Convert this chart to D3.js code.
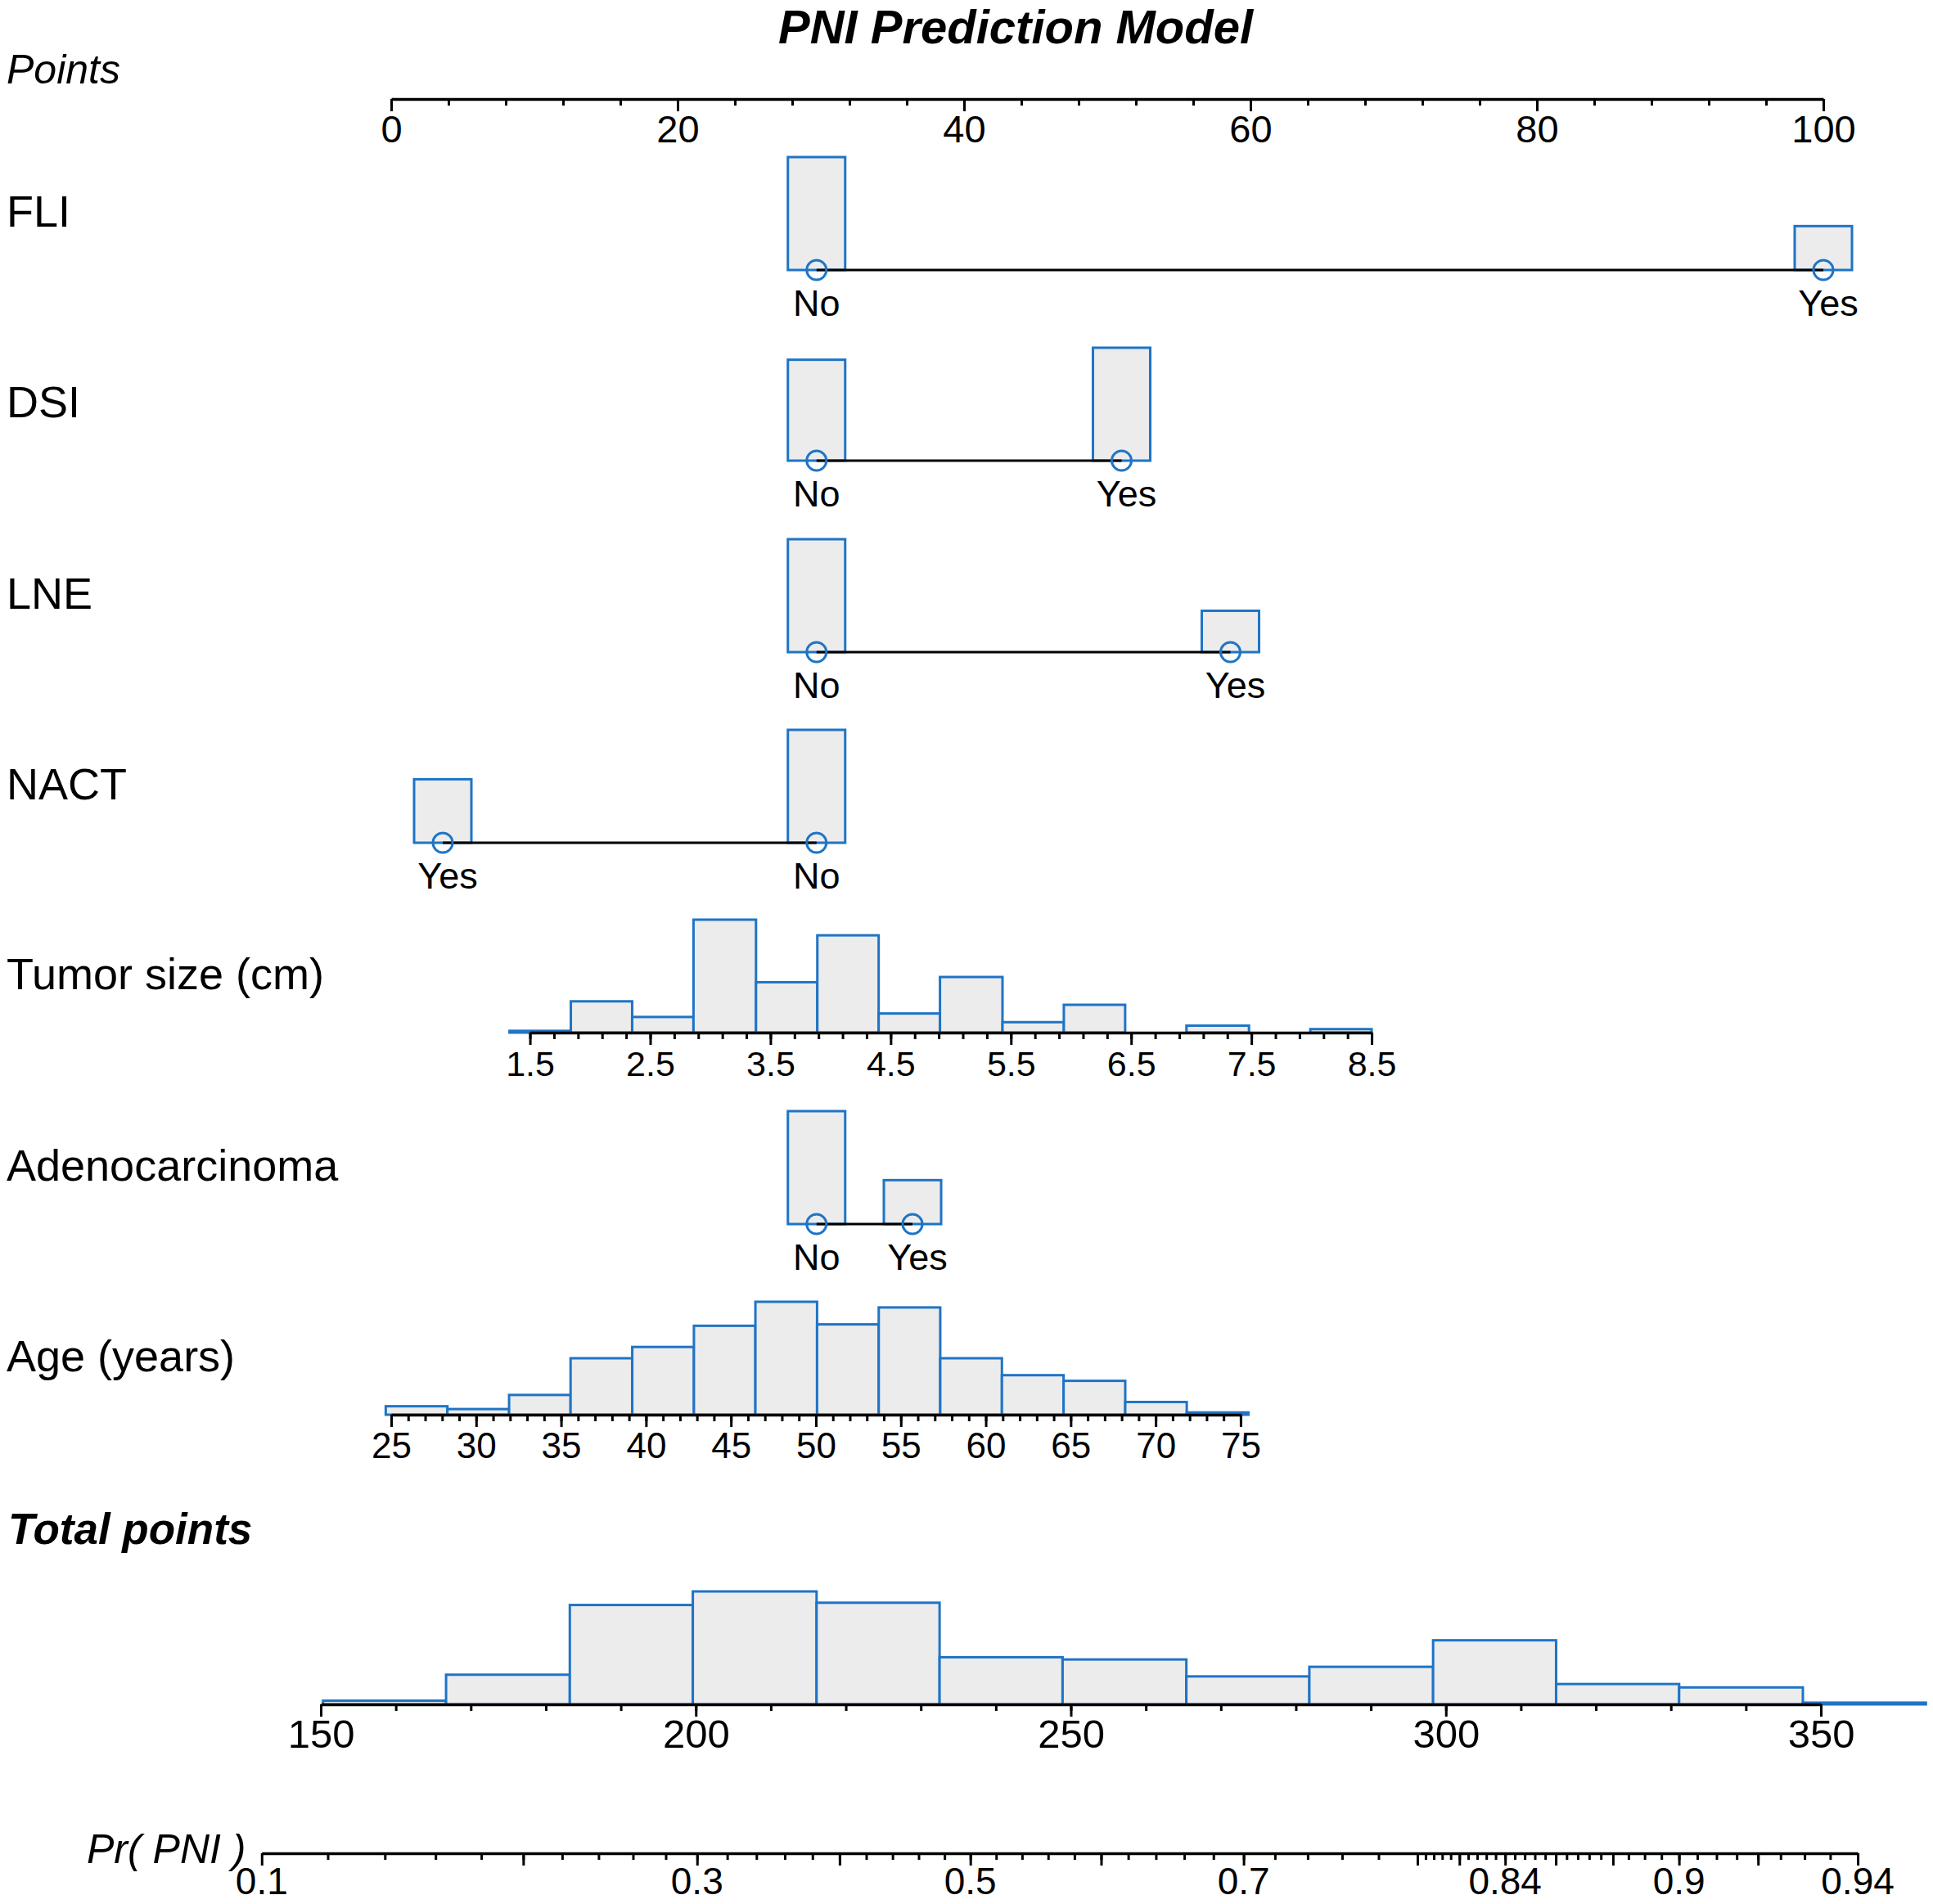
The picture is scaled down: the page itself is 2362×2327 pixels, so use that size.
<!DOCTYPE html>
<html>
<head>
<meta charset="utf-8">
<script src="https://cdn.jsdelivr.net/npm/d3@7"></script>
<style>
  html, body { margin: 0; padding: 0; background: #fff; }
  svg text { font-family: "Liberation Sans", Arial, sans-serif; fill: #000; }
</style>
</head>
<body>
<div id="nomogram-root"></div>
<script>
// ---- data ----
const title = 'PNI Prediction Model';

// categorical predictors: level, points, frequency
const fliLevels = ['No', 'Yes'];
const fliPoints = [29.7, 100];
const fliCounts = [180, 70];

const dsiLevels = ['No', 'Yes'];
const dsiPoints = [29.7, 51.0];
const dsiCounts = [118, 132];

const lneLevels = ['No', 'Yes'];
const lnePoints = [29.7, 58.6];
const lneCounts = [183, 67];

const nactLevels = ['Yes', 'No'];
const nactPoints = [3.6, 29.7];
const nactCounts = [90, 160];

const adenoLevels = ['No', 'Yes'];
const adenoPoints = [29.7, 36.4];
const adenoCounts = [180, 70];

// tumor size (cm)
const tumorTicks = [1.5, 2.5, 3.5, 4.5, 5.5, 6.5, 7.5, 8.5];
const tumorEnds = [1.5, 8.5];
const tumorEndPoints = [9.69, 68.46];
const tumorBins = [1.33, 1.84, 2.35, 2.86, 3.38, 3.89, 4.40, 4.91, 5.43, 5.94, 6.45, 6.96, 7.48, 7.99, 8.50];
const tumorCounts = [1, 18, 9, 65, 29, 56, 11, 32, 6, 16, 0, 4, 0, 2];

// age (years)
const ageTicks = [25, 30, 35, 40, 45, 50, 55, 60, 65, 70, 75];
const ageEnds = [25, 75];
const ageEndPoints = [0, 59.31];
const ageBins = [24.68, 28.31, 31.94, 35.56, 39.19, 42.82, 46.44, 50.07, 53.70, 57.32, 60.95, 64.58, 68.21, 71.83, 75.46];
const ageCounts = [3, 2, 7, 20, 24, 31.5, 40, 32, 38, 20, 14, 12, 4.5, 0.8];

// points / total points
const pointsTicks = [0, 20, 40, 60, 80, 100];
const totalTicks = [150, 200, 250, 300, 350];
const totalBins = [150.3, 166.7, 183.2, 199.6, 216.1, 232.5, 248.9, 265.4, 281.8, 298.3, 314.7, 331.1, 347.6, 364.0];
const totalCounts = [1.3, 10.5, 35.2, 40, 36, 16.7, 15.9, 9.9, 13.3, 22.7, 7.2, 6, 0.6];

// probability axis: total points = intercept + slope * logit(p)
const lpIntercept = 236.6;
const lpSlope = 43.0;
const prLabels = [0.1, 0.3, 0.5, 0.7, 0.84, 0.9, 0.94];
const prLong = [0.1, 0.2, 0.3, 0.4, 0.5, 0.6, 0.7, 0.8, 0.82, 0.84, 0.86, 0.88, 0.9, 0.92, 0.94];
const prShort = d3.range(0.12, 0.795, 0.02)
    .concat(d3.range(0.804, 0.879, 0.004))
    .concat(d3.range(0.885, 0.94, 0.005));

// ---- layout ----
const W = 2362, H = 2327;
const blue = '#1f74c6', grey = '#ececec';
const rowBase = [330, 563, 797, 1030, 1262, 1496, 1729];
const barMax = 138;
const catBarW = 70;

const svg = d3.select('#nomogram-root').append('svg')
    .attr('width', W).attr('height', H)
    .style('display', 'block');

const xPoints = d3.scaleLinear().domain([0, 100]).range([478, 2228]);
const xTotal = d3.scaleLinear().domain([150, 350]).range([392, 2225]);
const logit = p => Math.log(p / (1 - p));

function drawAxis(g, scale, major, minor, labelSize, fmt) {
  g.append('g').call(d3.axisBottom(scale).tickValues(minor).tickSize(8)
      .tickSizeOuter(0).tickFormat(''));
  const a = g.append('g').call(d3.axisBottom(scale).tickValues(major).tickSize(15)
      .tickSizeOuter(0).tickFormat(fmt || (d => d)));
  a.select('.domain').remove();
  a.selectAll('text').attr('y', 53).attr('dy', null)
      .style('font-size', labelSize + 'px');
  g.selectAll('.domain').attr('stroke', '#000').attr('stroke-width', 3.5);
  g.selectAll('.tick line').attr('stroke', '#000').attr('stroke-width', 3);
}

function drawBars(g, bins, counts, scale) {
  const y = d3.scaleLinear().domain([0, d3.max(counts)]).range([0, barMax]);
  g.selectAll('rect.bin')
    .data(counts)
    .join('rect')
    .attr('class', 'bin')
    .attr('x', (d, i) => scale(bins[i]))
    .attr('width', (d, i) => scale(bins[i + 1]) - scale(bins[i]))
    .attr('y', d => -y(d))
    .attr('height', d => y(d))
    .attr('fill', grey)
    .attr('stroke', blue)
    .attr('stroke-width', 3)
    .style('display', d => d > 0 ? null : 'none');
}

// title and points axis
svg.append('text').attr('x', 1241).attr('y', 53)
    .attr('text-anchor', 'middle')
    .style('font-size', '58px').style('font-weight', 'bold').style('font-style', 'italic')
    .text(title);
svg.append('text').attr('x', 8).attr('y', 102)
    .style('font-size', '50px').style('font-style', 'italic')
    .text('Points');
const pAxis = svg.append('g').attr('transform', 'translate(0,121)');
drawAxis(pAxis, xPoints, pointsTicks, d3.range(0, 101, 4), 47);

// categorical rows
const catRows = [
  {name: 'FLI', levels: fliLevels, points: fliPoints, counts: fliCounts, row: 0},
  {name: 'DSI', levels: dsiLevels, points: dsiPoints, counts: dsiCounts, row: 1},
  {name: 'LNE', levels: lneLevels, points: lnePoints, counts: lneCounts, row: 2},
  {name: 'NACT', levels: nactLevels, points: nactPoints, counts: nactCounts, row: 3},
  {name: 'Adenocarcinoma', levels: adenoLevels, points: adenoPoints, counts: adenoCounts, row: 5},
];

catRows.forEach(r => {
  const g = svg.append('g').attr('transform', `translate(0,${rowBase[r.row]})`);
  const y = d3.scaleLinear().domain([0, d3.max(r.counts)]).range([0, barMax]);
  g.selectAll('rect')
    .data(r.counts)
    .join('rect')
    .attr('x', (d, i) => xPoints(r.points[i]) - catBarW / 2)
    .attr('width', catBarW)
    .attr('y', d => -y(d))
    .attr('height', d => y(d))
    .attr('fill', grey)
    .attr('stroke', blue)
    .attr('stroke-width', 3);
  g.append('line')
    .attr('x1', xPoints(d3.min(r.points))).attr('x2', xPoints(d3.max(r.points)))
    .attr('y1', 0).attr('y2', 0)
    .attr('stroke', '#000').attr('stroke-width', 3);
  g.selectAll('circle')
    .data(r.points)
    .join('circle')
    .attr('cx', d => xPoints(d)).attr('cy', 0).attr('r', 12)
    .attr('fill', 'none').attr('stroke', blue).attr('stroke-width', 3);
  g.selectAll('text.lvl')
    .data(r.levels)
    .join('text')
    .attr('class', 'lvl')
    .attr('x', (d, i) => xPoints(r.points[i]) + (d === 'Yes' ? 6 : 0))
    .attr('y', 56)
    .attr('text-anchor', 'middle')
    .style('font-size', '45px')
    .text(d => d);
});

// tumor size row
const xTumor = d3.scaleLinear().domain(tumorEnds).range(tumorEndPoints.map(xPoints));
const gT = svg.append('g').attr('transform', `translate(0,${rowBase[4]})`);
drawBars(gT, tumorBins, tumorCounts, xTumor);
drawAxis(gT, xTumor, tumorTicks, d3.range(1.5, 8.51, 0.2), 43, d3.format('.1f'));

// age row
const xAge = d3.scaleLinear().domain(ageEnds).range(ageEndPoints.map(xPoints));
const gA = svg.append('g').attr('transform', `translate(0,${rowBase[6]})`);
drawBars(gA, ageBins, ageCounts, xAge);
drawAxis(gA, xAge, ageTicks, d3.range(25, 76, 1), 44);

// row labels
const rowNames = ['FLI', 'DSI', 'LNE', 'NACT', 'Tumor size (cm)', 'Adenocarcinoma', 'Age (years)'];
svg.selectAll('text.rowlab')
  .data(rowNames)
  .join('text')
  .attr('class', 'rowlab')
  .attr('x', 8)
  .attr('y', (d, i) => rowBase[i] - 53)
  .style('font-size', '54px')
  .text(d => d);

// total points
svg.append('text').attr('x', 10).attr('y', 1887)
    .style('font-size', '53px').style('font-weight', 'bold').style('font-style', 'italic')
    .text('Total points');
const gTot = svg.append('g').attr('transform', 'translate(0,2083)');
drawBars(gTot, totalBins, totalCounts, xTotal);
drawAxis(gTot, xTotal, totalTicks, d3.range(150, 351, 10), 49);

// probability axis
const prEnds = [logit(0.1), logit(0.94)];
const xPr = d3.scaleLinear().domain(prEnds)
    .range(prEnds.map(l => xTotal(lpIntercept + lpSlope * l)));
const gPr = svg.append('g').attr('transform', 'translate(0,2265)');
gPr.append('g').call(d3.axisBottom(xPr).tickValues(prShort.map(logit)).tickSize(8)
    .tickSizeOuter(0).tickFormat(''));
gPr.append('g').call(d3.axisBottom(xPr).tickValues(prLong.map(logit)).tickSize(15)
    .tickSizeOuter(0).tickFormat('')).select('.domain').remove();
gPr.selectAll('text.prlab')
  .data(prLabels)
  .join('text')
  .attr('class', 'prlab')
  .attr('x', d => xPr(logit(d)))
  .attr('y', 50)
  .attr('text-anchor', 'middle')
  .style('font-size', '46px')
  .text(d => d);
gPr.selectAll('.domain').attr('stroke', '#000').attr('stroke-width', 3.5);
gPr.selectAll('.tick line').attr('stroke', '#000').attr('stroke-width', 3);
svg.append('text').attr('x', 106).attr('y', 2277)
    .style('font-size', '50px').style('font-style', 'italic')
    .text('Pr( PNI )');
</script>
</body>
</html>
